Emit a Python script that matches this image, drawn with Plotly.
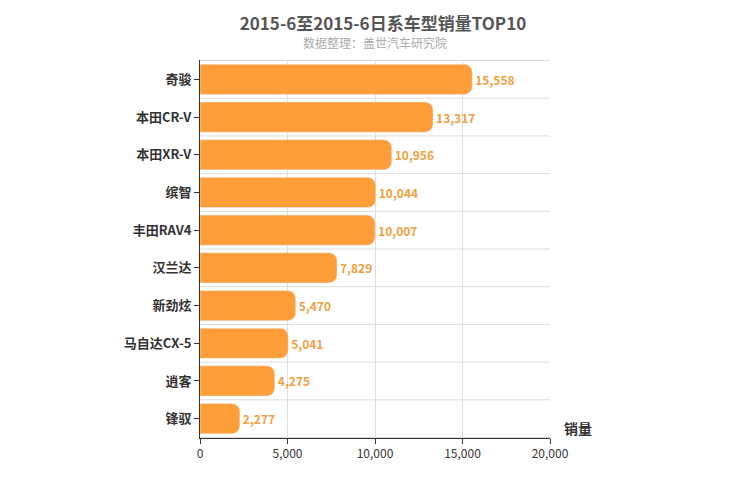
import plotly.graph_objects as go

models = ["奇骏", "本田CR-V", "本田XR-V", "缤智", "丰田RAV4", "汉兰达", "新劲炫", "马自达CX-5", "逍客", "锋驭"]
sales = [15558, 13317, 10956, 10044, 10007, 7829, 5470, 5041, 4275, 2277]

fig = go.Figure(go.Bar(
    x=sales, y=models, orientation="h",
    marker=dict(color="#ff9d38", cornerradius=8),
    width=0.8,
    text=[f"<b>{v:,}</b>" for v in sales], textposition="outside",
    textfont=dict(color="#f0a040", size=12),
    cliponaxis=False,
))

fig.update_layout(
    width=750, height=500,
    margin=dict(l=192, r=208, t=52, b=70, autoexpand=False),
    plot_bgcolor="white", paper_bgcolor="white",
    font=dict(family="Noto Sans CJK SC, sans-serif", color="#333"),
    showlegend=False,
    title=dict(text="<b>2015-6至2015-6日系车型销量TOP10</b>", x=0.5, xanchor="center",
               y=0.98, yanchor="top", font=dict(size=17, color="#555")),
)
fig.add_annotation(text="数据整理：盖世汽车研究院", xref="paper", yref="paper",
                   x=0.5, y=1.075, showarrow=False, font=dict(size=12, color="#aaa"))
fig.add_annotation(text="<b>销量</b>", xref="paper", yref="paper",
                   x=1.035, y=-0.005, xanchor="left", showarrow=False,
                   font=dict(size=14, color="#333"))

fig.update_xaxes(range=[0, 20000], dtick=5000, tickformat=",", showgrid=True, automargin=False,
                 gridcolor="#ddd", showline=True, linecolor="#333", ticks="outside",
                 ticklen=5, tickcolor="#333", tickfont=dict(size=12, color="#333"), zeroline=False)
fig.update_yaxes(autorange="reversed", showgrid=False, showline=True, automargin=False,
                 linecolor="#333", ticks="outside", ticklen=5, tickcolor="#333",
                 tickfont=dict(size=13, color="#333"),
                 tickvals=models, ticktext=[f"<b>{m}</b>" for m in models])
for i in range(len(models) + 1):
    fig.add_shape(type="line", xref="paper", x0=0, x1=1, yref="y",
                  y0=i - 0.5, y1=i - 0.5, line=dict(color="#ddd", width=1), layer="below")

fig.write_html("out.html")
